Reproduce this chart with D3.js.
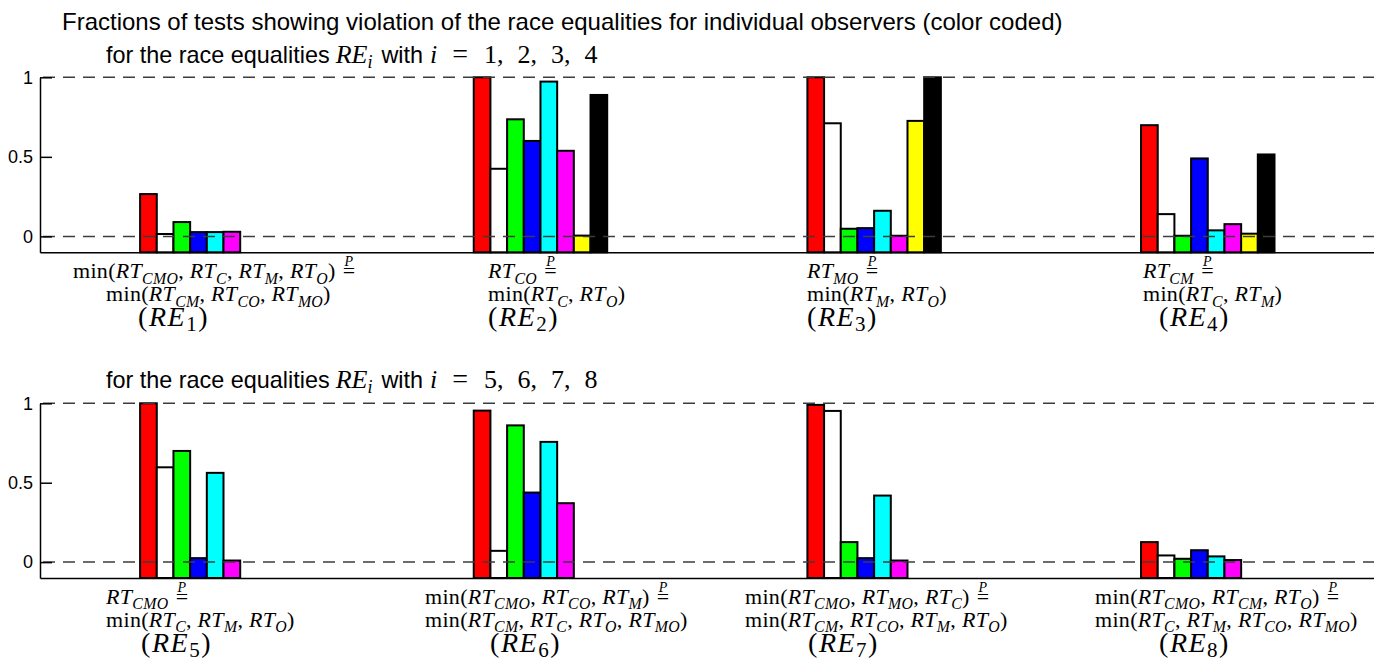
<!DOCTYPE html>
<html>
<head>
<meta charset="utf-8">
<script src="https://cdn.jsdelivr.net/npm/d3@7"></script>
<style>
  body { margin: 0; background: #fff; }
  svg { display: block; }
  text { white-space: pre; }
</style>
</head>
<body>
<svg id="chart" width="1374" height="661"></svg>
<script>
// ---- data -------------------------------------------------------------
// Race equalities RE1..RE8 (four per panel)
const equalities = ["RE1", "RE2", "RE3", "RE4", "RE5", "RE6", "RE7", "RE8"];

// Observers (one color each); null = no test for that observer
const observers = ["obs1", "obs2", "obs3", "obs4", "obs5", "obs6", "obs7", "obs8"];

// Fraction of tests showing a violation, per observer, for RE1..RE8
const obs1 = [0.266, 1.000, 1.000, 0.699, 1.000, 0.954, 0.990, 0.126];
const obs2 = [0.015, 0.425, 0.711, 0.140, 0.597, 0.071, 0.952, 0.042];
const obs3 = [0.090, 0.736, 0.048, 0.004, 0.700, 0.861, 0.126, 0.021];
const obs4 = [0.027, 0.600, 0.052, 0.490, 0.025, 0.438, 0.025, 0.075];
const obs5 = [0.027, 0.973, 0.161, 0.038, 0.562, 0.757, 0.419, 0.036];
const obs6 = [0.029, 0.538, 0.004, 0.077, 0.010, 0.371, 0.010, 0.013];
const obs7 = [null,  0.005, 0.726, 0.017, null,  null,  null,  null ];
const obs8 = [null,  0.889, 1.000, 0.515, null,  null,  null,  null ];
const seriesValues = [obs1, obs2, obs3, obs4, obs5, obs6, obs7, obs8];

const yTickValues = [0, 0.5, 1];
const referenceLevels = [0, 1];

const titleText = "Fractions of tests showing violation of the race equalities for individual observers (color coded)";
const panelIndices = [["1", "2", "3", "4"], ["5", "6", "7", "8"]];

// label lines under each group (TeX-like: _{..} is a subscript)
const labelLine1 = [
  "min(RT_{CMO}, RT_{C}, RT_{M}, RT_{O})",
  "RT_{CO}",
  "RT_{MO}",
  "RT_{CM}",
  "RT_{CMO}",
  "min(RT_{CMO}, RT_{CO}, RT_{M})",
  "min(RT_{CMO}, RT_{MO}, RT_{C})",
  "min(RT_{CMO}, RT_{CM}, RT_{O})"
];
const labelLine2 = [
  "min(RT_{CM}, RT_{CO}, RT_{MO})",
  "min(RT_{C}, RT_{O})",
  "min(RT_{M}, RT_{O})",
  "min(RT_{C}, RT_{M})",
  "min(RT_{C}, RT_{M}, RT_{O})",
  "min(RT_{CM}, RT_{C}, RT_{O}, RT_{MO})",
  "min(RT_{CM}, RT_{CO}, RT_{M}, RT_{O})",
  "min(RT_{C}, RT_{M}, RT_{CO}, RT_{MO})"
];
const labelLine3 = ["(RE_{1})", "(RE_{2})", "(RE_{3})", "(RE_{4})",
                    "(RE_{5})", "(RE_{6})", "(RE_{7})", "(RE_{8})"];

// ---- styling / layout ---------------------------------------------------
const observerColors = ["#ff0000", "#ffffff", "#00ff00", "#0000ff",
                        "#00ffff", "#ff00ff", "#ffff00", "#000000"];
const SANS = "'Liberation Sans', Arial, Helvetica, sans-serif";
const SERIF = "'Liberation Serif', 'Times New Roman', serif";

const W = 1374;
const panels = [
  { first: 0, top: 77.3, bottom: 252.3, subtitleY: 63 },
  { first: 4, top: 403.3, bottom: 578.0, subtitleY: 388 }
];
// left edges of the label lines, in x-axis units (groups sit at 1..4)
const labelOffsets = [
  [0.599, 0.698, 0.794], [1.843, 1.843, 1.843], [2.799, 2.799, 2.799], [3.806, 3.806, 3.854],
  [0.698, 0.698, 0.803], [1.654, 1.654, 1.849], [2.613, 2.613, 2.802], [3.662, 3.662, 3.854]
];

const svg = d3.select("#chart");
const x = d3.scaleLinear().domain([0.5, 4.5]).range([40, 40 + 4 * 333.65]);
const inner = d3.scaleBand().domain(observers).range([-0.2, 0.2]).padding(0);
const color = d3.scaleOrdinal().domain(observers).range(observerColors);

// renders a small TeX-like string into a <text> element
function texInto(textSel, str, size, subRatio, subDrop) {
  const re = /min|_\{[^}]*\}|[A-Za-z]|[^A-Za-z_]+/g;
  let shift = 0;
  const subShift = subDrop * size;
  let m;
  while ((m = re.exec(str)) !== null) {
    const tok = m[0];
    const t = textSel.append("tspan");
    if (tok.startsWith("_{")) {
      const body = tok.slice(2, -1);
      t.attr("dy", subShift - shift).attr("font-size", size * subRatio)
       .attr("font-style", /[A-Za-z]/.test(body) ? "italic" : "normal")
       .text(body);
      shift = subShift;
    } else {
      t.attr("dy", -shift).attr("font-size", size)
       .attr("font-style", (tok.length === 1 && /[A-Za-z]/.test(tok)) ? "italic" : "normal")
       .text(tok);
      shift = 0;
    }
  }
}

// ---- title ------------------------------------------------------------
svg.append("text")
  .attr("x", 62).attr("y", 30)
  .attr("font-family", SANS).attr("font-size", 24).attr("fill", "#000")
  .text(titleText);

panels.forEach((p, pi) => {
  const y = d3.scaleLinear().domain([-0.1, 1]).range([p.bottom, p.top]);
  const g = svg.append("g");

  // subtitle with inline math
  const st = g.append("text").attr("x", 106).attr("y", p.subtitleY)
    .attr("font-family", SANS).attr("font-size", 23.4).attr("fill", "#000");
  st.append("tspan").text("for the race equalities");
  st.append("tspan").attr("dx", 6).attr("font-family", SERIF).attr("font-style", "italic")
    .attr("font-size", 26).text("RE");
  st.append("tspan").attr("font-family", SERIF).attr("font-style", "italic")
    .attr("font-size", 18).attr("dy", 5).text("i");
  st.append("tspan").attr("dy", -5).attr("dx", 9).text("with");
  st.append("tspan").attr("dx", 7).attr("font-family", SERIF).attr("font-style", "italic")
    .attr("font-size", 26).text("i");
  st.append("tspan").attr("dx", 15).attr("font-family", SERIF).attr("font-size", 28).text("=");
  panelIndices[pi].forEach((d, i) => {
    st.append("tspan").attr("dx", i === 0 ? 16 : 14).attr("font-family", SERIF)
      .attr("font-size", 26).text(d + (i < 3 ? "," : ""));
  });

  // bars
  const groups = d3.range(4).map(k => p.first + k);
  groups.forEach((ei, k) => {
    const rows = observers.map((o, j) => ({ o, v: seriesValues[j][ei] }))
      .filter(d => d.v !== null);
    g.append("g").selectAll("rect").data(rows).join("rect")
      .attr("x", d => x(k + 1 + inner(d.o)))
      .attr("width", d => x(k + 1 + inner(d.o) + inner.bandwidth()) - x(k + 1 + inner(d.o)))
      .attr("y", d => y(d.v))
      .attr("height", d => y(-0.1) - y(d.v))
      .attr("fill", d => color(d.o))
      .attr("stroke", "#000").attr("stroke-width", 2);
  });

  // dashed reference lines at 0 and 1
  g.append("g").selectAll("line").data(referenceLevels).join("line")
    .attr("x1", x(0.5) + 3).attr("x2", W)
    .attr("y1", d => y(d)).attr("y2", d => y(d))
    .attr("stroke", "#3c3c3c").attr("stroke-width", 1.5)
    .attr("stroke-dasharray", "12,8");

  // axes
  const yAxis = d3.axisLeft(y).tickValues(yTickValues)
    .tickFormat(d3.format("~g")).tickSizeInner(-12).tickSizeOuter(0).tickPadding(7);
  const ya = g.append("g").attr("transform", `translate(${x(0.5)},0)`).call(yAxis);
  ya.select(".domain").attr("stroke", "#000").attr("stroke-width", 1.5);
  ya.selectAll(".tick line").attr("stroke", "#000").attr("stroke-width", 1.5);
  ya.selectAll(".tick text").attr("font-family", SANS).attr("font-size", 18).attr("fill", "#000");

  const xAxis = d3.axisBottom(x).tickValues([]).tickSizeOuter(0);
  const xa = g.append("g").attr("transform", `translate(0,${y(-0.1)})`).call(xAxis);
  xa.select(".domain").attr("stroke", "#000").attr("stroke-width", 1.5);

  // group labels
  groups.forEach((ei, k) => {
    const base = y(-0.1);
    const off = labelOffsets[ei];
    const mathSize = 22;
    const l1 = g.append("text").attr("x", x(off[0])).attr("y", base + 26)
      .attr("font-family", SERIF).attr("letter-spacing", 0.3).attr("fill", "#000");
    texInto(l1, labelLine1[ei], mathSize, 0.72, 0.24);
    const bb = l1.node().getBBox();
    const eqX = bb.x + bb.width + 7;
    g.append("text").attr("x", eqX).attr("y", base + 26)
      .attr("font-family", SERIF).attr("font-size", mathSize).text("=");
    g.append("text").attr("x", eqX + 6.2).attr("y", base + 14)
      .attr("text-anchor", "middle")
      .attr("font-family", SERIF).attr("font-style", "italic").attr("font-size", 14).text("P");

    const l2 = g.append("text").attr("x", x(off[1])).attr("y", base + 49)
      .attr("font-family", SERIF).attr("letter-spacing", 0.3).attr("fill", "#000");
    texInto(l2, labelLine2[ei], mathSize, 0.72, 0.24);

    const l3 = g.append("text").attr("x", x(off[2])).attr("y", base + 74)
      .attr("font-family", SERIF).attr("letter-spacing", 1.5).attr("fill", "#000");
    texInto(l3, labelLine3[ei], 28, 0.75, 0.17);
  });
});
</script>
</body>
</html>
